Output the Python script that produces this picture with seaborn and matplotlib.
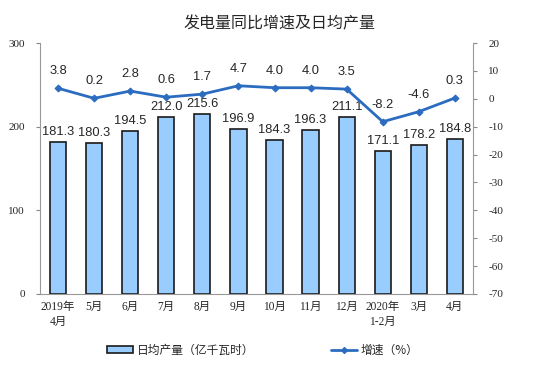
import numpy as np
import matplotlib
matplotlib.use("Agg")
import matplotlib.pyplot as plt
import seaborn as sns
from matplotlib.lines import Line2D
from matplotlib.patches import Patch

categories = ["2019年\n4月", "5月", "6月", "7月", "8月", "9月", "10月", "11月", "12月", "2020年\n1-2月", "3月", "4月"]
daily_output = [181.3, 180.3, 194.5, 212.0, 215.6, 196.9, 184.3, 196.3, 211.1, 171.1, 178.2, 184.8]
growth = [3.8, 0.2, 2.8, 0.6, 1.7, 4.7, 4.0, 4.0, 3.5, -8.2, -4.6, 0.3]
left_ticks = [0, 100, 200, 300]
right_ticks = [20, 10, 0, -10, -20, -30, -40, -50, -60, -70]

sns.set_style("white")
plt.rcParams['font.family'] = ['Noto Sans CJK SC', 'DejaVu Sans']

fig = plt.figure(figsize=(5.59, 3.85), dpi=100)
ax = fig.add_axes([0.0716, 0.2364, 0.846 - 0.0716, 0.888 - 0.2364])

bar_color = "#99ccff"
line_color = "#2b6cc0"
serif = ['Liberation Serif', 'Noto Sans CJK SC']
sans = ['Liberation Sans', 'DejaVu Sans']

sns.barplot(x=categories, y=daily_output, color=bar_color, edgecolor="#1a1a1a",
            linewidth=1.2, width=0.45, saturation=1, ax=ax)
ax.set_ylim(0, 300)
ax.set_xlim(-0.5, len(categories) - 0.5)
ax.set_yticks(left_ticks)
ax.set_yticklabels([str(t) for t in left_ticks], family=serif, fontsize=8)
ax.set_xticks(range(len(categories)))
ax.set_xticklabels(categories, family=serif, fontsize=8.3, linespacing=1.3)
ax.tick_params(axis='x', length=0, pad=5)
ax.tick_params(axis='y', length=3, color="#888888", direction='out', left=True, pad=8)
ax.bar_label(ax.containers[0], labels=[f"{v:.1f}" for v in daily_output],
             padding=3, fontsize=9.3, family=sans)

ax2 = ax.twinx()
xpos = np.arange(len(categories))
sns.lineplot(x=xpos, y=growth, color=line_color, linewidth=2, marker="D",
             markersize=3.5, markeredgecolor=line_color, ax=ax2)
ax2.set_ylim(-70, 20)
ax2.set_yticks(right_ticks)
ax2.set_yticklabels([str(t) for t in right_ticks], family=serif, fontsize=8)
ax2.tick_params(axis='y', length=3, color="#888888", direction='out', right=True, pad=8)
for x, v in zip(xpos, growth):
    ax2.annotate(f"{v:.1f}", (x, v), xytext=(0, 8), textcoords="offset points",
                 ha="center", va="bottom", fontsize=9.3, family=sans)

for a in (ax, ax2):
    a.spines['top'].set_visible(False)
    for s in ('left', 'right', 'bottom'):
        a.spines[s].set_color("#999999")
        a.spines[s].set_linewidth(0.8)
ax.spines['right'].set_visible(False)
ax2.spines['left'].set_visible(False)
ax2.spines['bottom'].set_visible(False)

fig.text(0.5, 0.938, "发电量同比增速及日均产量", ha="center", va="center", fontsize=11.5)

handles = [Patch(facecolor=bar_color, edgecolor="#1a1a1a", linewidth=1.2, label="日均产量（亿千瓦时）"),
           Line2D([0], [0], color=line_color, linewidth=2, marker="D", markersize=3, label="增速（%）")]
fig.legend(handles=handles, loc="center", bbox_to_anchor=(0.47, 0.09), ncol=2,
           frameon=False, fontsize=8.5, columnspacing=6.5, handlelength=2.2, handleheight=0.6,
           handletextpad=0.3)

fig.savefig("out.png", dpi=100)
